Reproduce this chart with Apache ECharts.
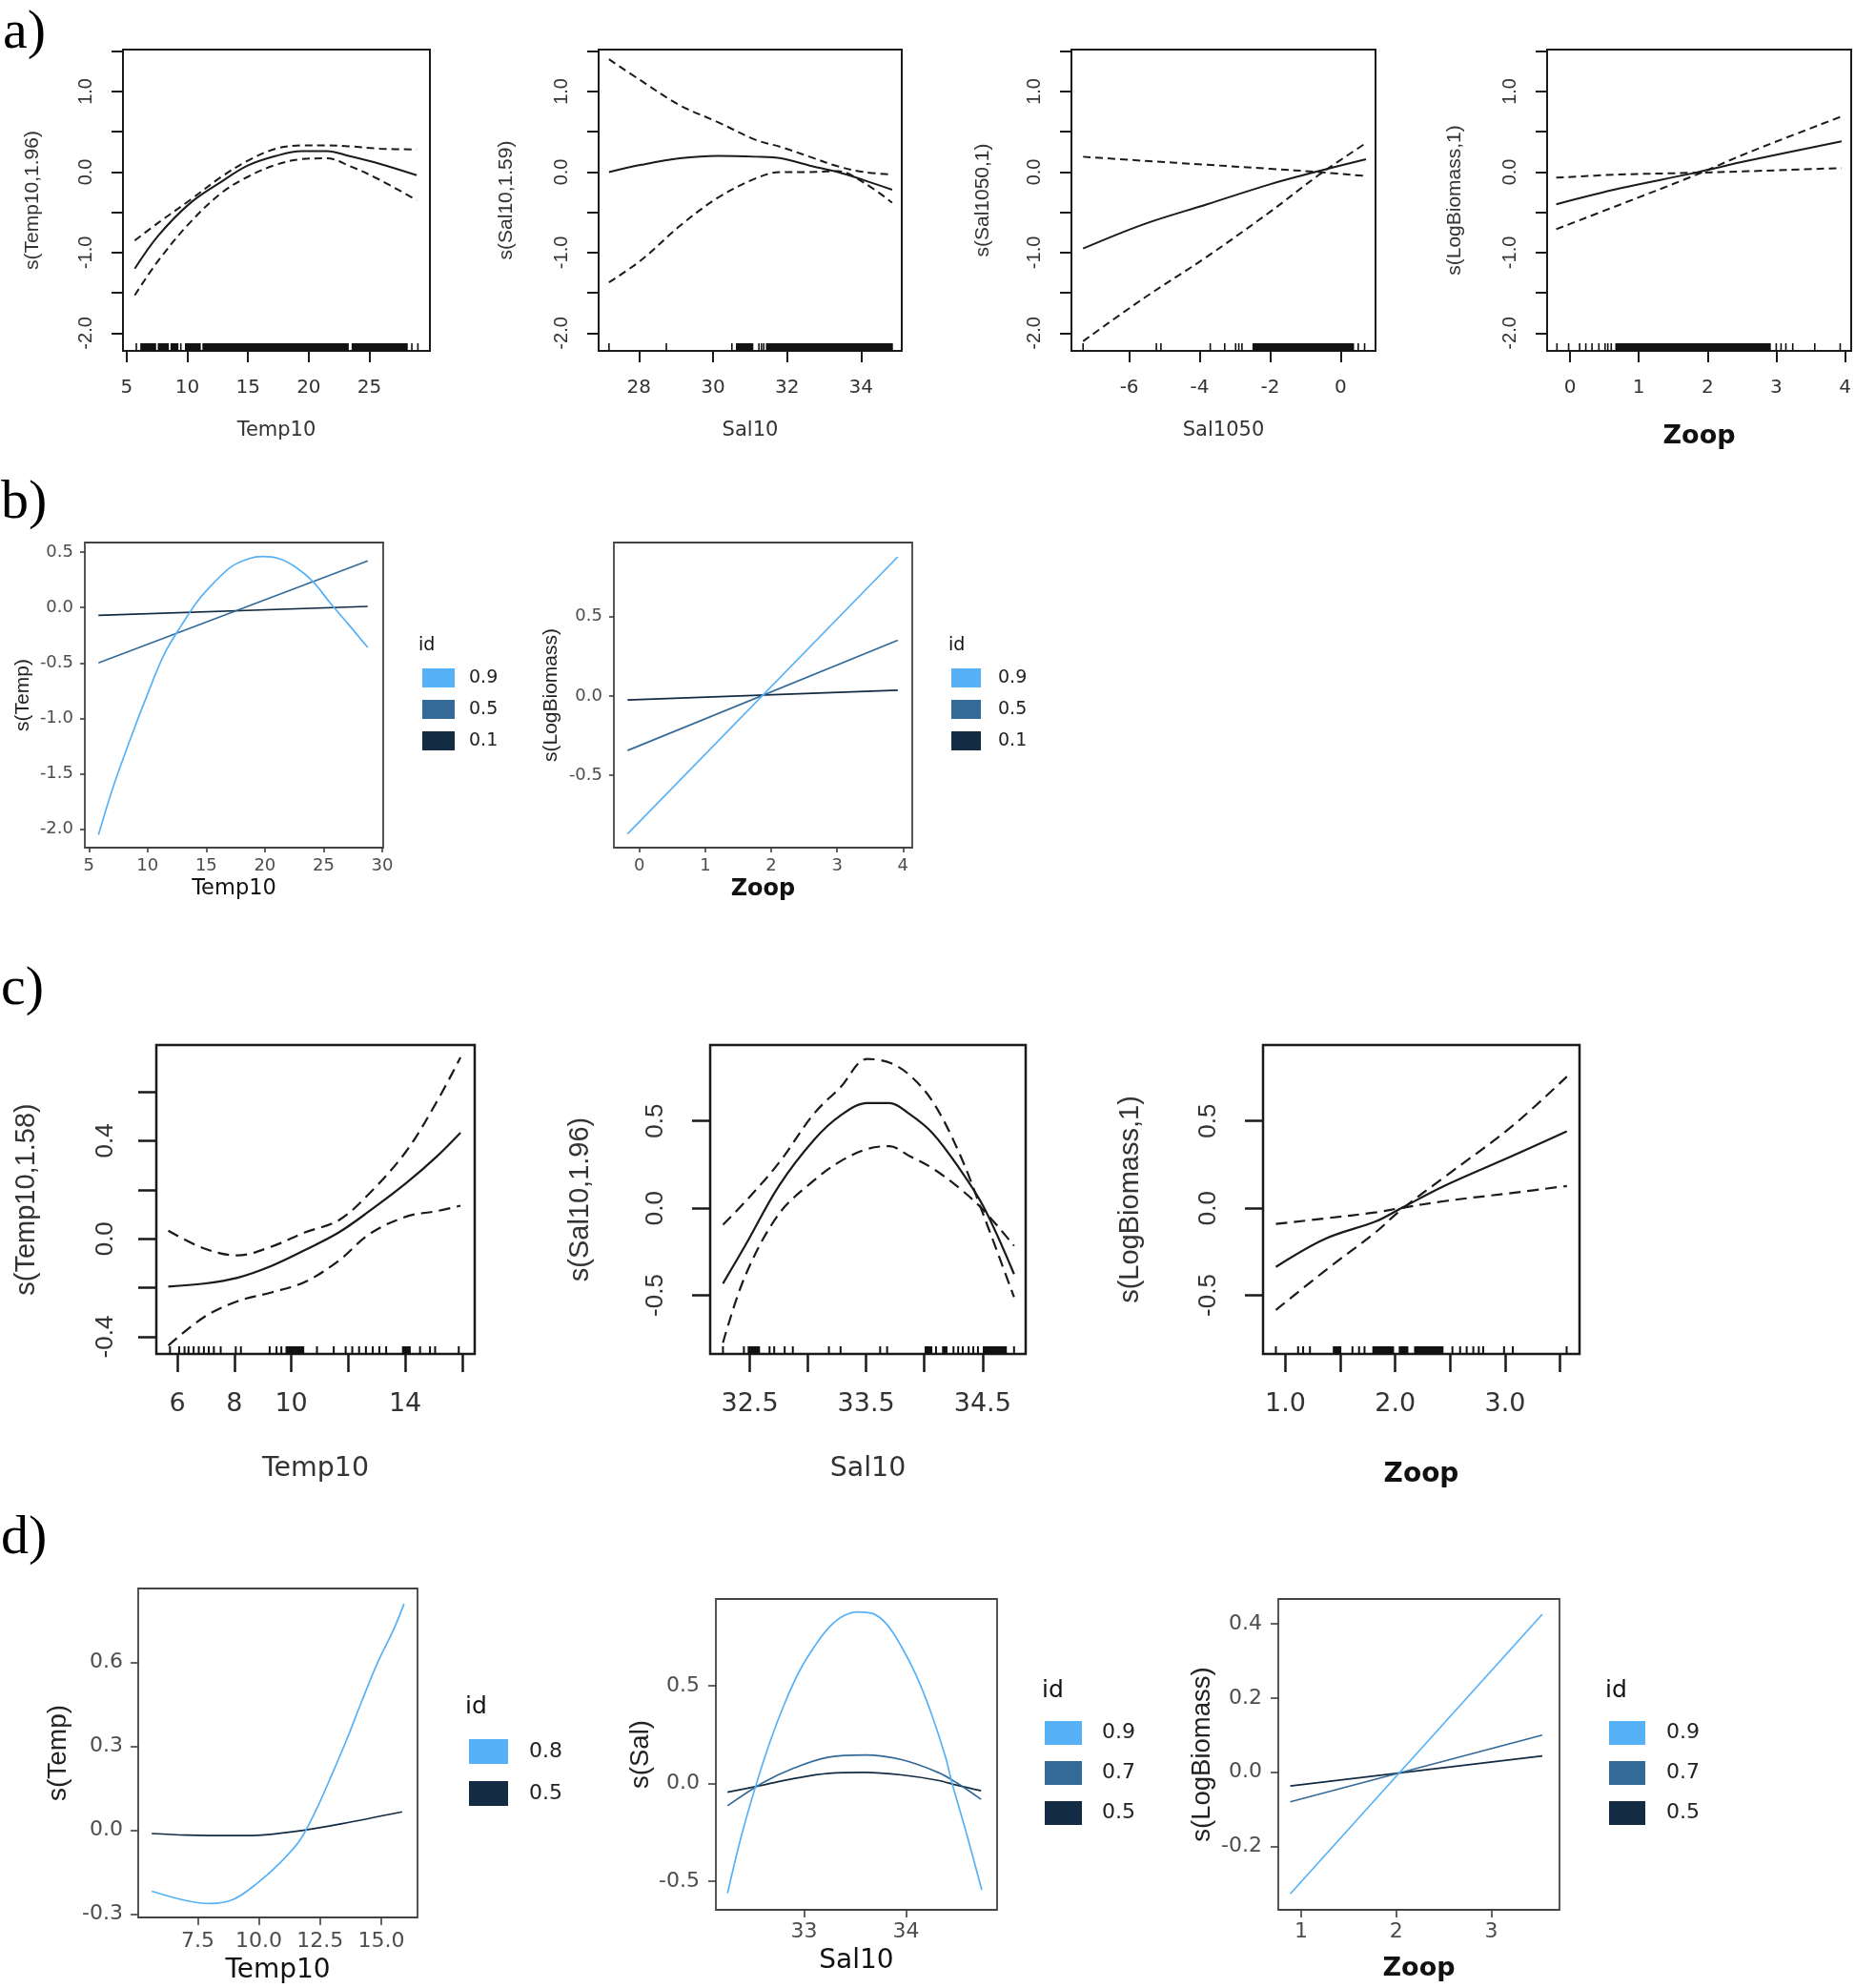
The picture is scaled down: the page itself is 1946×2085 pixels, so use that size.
<!DOCTYPE html>
<html><head><meta charset="utf-8">
<script src="https://cdn.jsdelivr.net/npm/echarts@6/dist/echarts.min.js"></script>
<style>html,body{margin:0;padding:0;background:#fff}#c{width:1946px;height:2085px}</style>
</head><body><div id="c"></div>
<script>
// ================= DATA =================
// ---- a) GAM partial effects: fit and two confidence-band lines ----
const a1X   = [5.66, 7.6, 10.2, 12.8, 14.97, 17.3, 19.4, 21.5, 23.3, 25.9, 28.9];
const a1Fit = [-1.20, -0.79, -0.39, -0.12, 0.08, 0.20, 0.26, 0.26, 0.20, 0.10, -0.04];
const a1Ci1 = [-0.85, -0.63, -0.35, -0.06, 0.14, 0.29, 0.33, 0.33, 0.32, 0.29, 0.28];
const a1Ci2 = [-1.53, -1.10, -0.63, -0.26, -0.06, 0.09, 0.16, 0.17, 0.08, -0.10, -0.35];
const a1Rug = [[5.79,5.79],[6.18,7.36],[7.62,8.41],[8.67,9.2],[9.46,9.46],[9.86,11.04],[11.3,23.24],[23.6,28.1],[28.5,28.5],[29.0,29.0]];

const a2X   = [27.19, 28.07, 29.10, 30.13, 31.15, 31.84, 32.61, 33.38, 34.07, 34.84];
const a2Fit = [0.0, 0.09, 0.17, 0.20, 0.19, 0.17, 0.08, 0.0, -0.10, -0.22];
const a2Ci1 = [1.40, 1.13, 0.83, 0.62, 0.40, 0.31, 0.19, 0.07, 0.0, -0.03];
const a2Ci2 = [-1.37, -1.09, -0.67, -0.32, -0.08, 0.0, 0.0, 0.01, -0.13, -0.38];
const a2Rug = [[27.19,27.19],[28.74,28.74],[30.51,30.51],[30.64,31.07],[31.24,31.24],[31.31,31.31],[31.37,31.37],[31.45,34.84]];

const a3X   = [-7.31, -5.6, -3.79, -1.99, -0.63, 0.72];
const a3Fit = [-0.95, -0.65, -0.40, -0.15, 0.01, 0.16];
const a3Ci1 = [0.19, 0.14, 0.09, 0.04, 0.0, -0.05];
const a3Ci2 = [-2.10, -1.57, -1.05, -0.49, -0.04, 0.36];
const a3Rug = [[-7.31,-7.31],[-5.23,-5.23],[-5.10,-5.10],[-3.70,-3.70],[-3.29,-3.29],[-2.98,-2.98],[-2.89,-2.89],[-2.80,-2.80],[-2.48,0.36],[0.50,0.50],[0.68,0.68]];

const a4X   = [-0.2, 0.74, 1.76, 2.59, 3.95];
const a4Fit = [-0.40, -0.20, -0.02, 0.14, 0.38];
const a4Ci1 = [-0.07, -0.03, -0.01, 0.01, 0.05];
const a4Ci2 = [-0.71, -0.40, -0.06, 0.24, 0.69];
const a4Rug = [[-0.19,-0.19],[-0.02,-0.02],[0.14,0.14],[0.23,0.23],[0.32,0.32],[0.42,0.42],[0.51,0.51],[0.55,0.55],[0.60,0.60],[0.67,2.91],[3.0,3.0],[3.07,3.07],[3.14,3.14],[3.24,3.24],[3.56,3.56],[3.93,3.93]];

// ---- b) quantile smooths (id levels) ----
const bLevels = ['0.9', '0.5', '0.1'];
const b1X9 = [5.81, 7.03, 8.48, 9.93, 11.38, 12.83, 14.28, 15.72, 17.17, 18.62, 19.78, 21.23, 22.68, 24.13, 25.58, 27.03, 28.77];
const b1Y9 = [-2.05, -1.63, -1.20, -0.80, -0.43, -0.17, 0.06, 0.23, 0.37, 0.44, 0.46, 0.44, 0.36, 0.23, 0.04, -0.14, -0.36];
const b1X5 = [5.81, 28.77], b1Y5 = [-0.50, 0.42];
const b1X1 = [5.81, 28.77], b1Y1 = [-0.07, 0.01];
const b2X9 = [-0.18, 3.92], b2Y9 = [-0.87, 0.876];
const b2X5 = [-0.18, 3.92], b2Y5 = [-0.344, 0.35];
const b2X1 = [-0.18, 3.92], b2Y1 = [-0.026, 0.036];

// ---- c) GAM partial effects ----
const c1X   = [5.68, 6.93, 8.11, 9.30, 10.48, 11.67, 12.74, 14.04, 15.11, 15.94];
const c1Fit = [-0.195, -0.183, -0.159, -0.111, -0.046, 0.026, 0.113, 0.228, 0.336, 0.433];
const c1Ci1 = [0.033, -0.039, -0.068, -0.032, 0.026, 0.076, 0.185, 0.358, 0.56, 0.74];
const c1Ci2 = [-0.436, -0.32, -0.255, -0.219, -0.176, -0.089, 0.019, 0.091, 0.113, 0.135];
const c1Rug = [[5.74,5.74],[6.06,6.06],[6.25,6.25],[6.39,6.39],[6.57,6.57],[6.75,6.75],[6.93,6.93],[7.10,7.10],[7.28,7.28],[7.52,7.52],[8.05,8.05],[8.23,8.23],[9.24,9.24],[9.48,9.48],[9.65,9.65],[9.83,10.42],[10.90,10.90],[11.49,11.49],[11.91,11.91],[12.14,12.14],[12.38,12.38],[12.62,12.62],[12.86,12.86],[13.09,13.09],[13.33,13.33],[13.92,14.16],[14.52,14.52],[14.87,14.87],[15.05,15.05],[15.88,15.88]];

const c2X   = [32.27, 32.46, 32.75, 33.05, 33.28, 33.51, 33.70, 33.87, 34.07, 34.30, 34.51, 34.77];
const c2Fit = [-0.432, -0.216, 0.127, 0.39, 0.531, 0.602, 0.602, 0.541, 0.43, 0.228, 0.006, -0.378];
const c2Ci1 = [-0.095, 0.036, 0.259, 0.54, 0.693, 0.855, 0.834, 0.764, 0.612, 0.315, -0.044, -0.51];
const c2Ci2 = [-0.772, -0.39, -0.034, 0.158, 0.269, 0.339, 0.355, 0.299, 0.228, 0.115, -0.014, -0.216];
const c2Rug = [[32.27,32.27],[32.45,32.45],[32.49,32.58],[32.67,32.67],[32.71,32.71],[32.80,32.80],[32.87,32.87],[33.18,33.18],[33.28,33.28],[33.62,33.62],[33.68,33.68],[34.01,34.06],[34.10,34.10],[34.16,34.19],[34.25,34.25],[34.29,34.29],[34.33,34.33],[34.38,34.38],[34.42,34.42],[34.46,34.46],[34.51,34.70],[34.77,34.77]];

const c3X   = [0.913, 1.362, 1.827, 2.044, 2.447, 3.066, 3.562];
const c3Fit = [-0.337, -0.176, -0.075, -0.004, 0.127, 0.299, 0.44];
const c3Ci1 = [-0.091, -0.059, -0.024, 0.0, 0.04, 0.087, 0.127];
const c3Ci2 = [-0.584, -0.358, -0.135, -0.014, 0.178, 0.471, 0.754];
const c3Rug = [[0.913,0.913],[1.115,1.115],[1.161,1.161],[1.223,1.223],[1.44,1.50],[1.61,1.61],[1.67,1.67],[1.72,1.72],[1.80,1.98],[2.04,2.11],[2.18,2.43],[2.52,2.52],[2.59,2.59],[2.65,2.65],[2.71,2.71],[2.76,2.76],[2.80,2.80],[2.99,2.99],[3.07,3.07],[3.56,3.56]];

// ---- d) quantile smooths ----
const d1Levels = ['0.8', '0.5'];
const d1X8 = [5.62, 7.05, 8.01, 8.96, 9.92, 10.87, 11.67, 12.30, 12.94, 13.57, 14.21, 14.85, 15.48, 15.93];
const d1Y8 = [-0.219, -0.253, -0.263, -0.248, -0.191, -0.117, -0.0375, 0.065, 0.19, 0.32, 0.4625, 0.599, 0.7125, 0.809];
const d1X5 = [5.62, 7.05, 8.96, 10.23, 11.82, 13.41, 15.85];
const d1Y5 = [-0.0125, -0.018, -0.020, -0.017, -0.001, 0.023, 0.065];

const dLevels = ['0.9', '0.7', '0.5'];
const d2X9 = [32.25, 32.386, 32.529, 32.671, 32.814, 32.957, 33.1, 33.243, 33.386, 33.529, 33.671, 33.814, 33.957, 34.1, 34.243, 34.386, 34.457, 34.6, 34.743];
const d2Y9 = [-0.561, -0.268, -0.008, 0.22, 0.415, 0.577, 0.699, 0.797, 0.857, 0.878, 0.870, 0.813, 0.699, 0.553, 0.366, 0.138, -0.008, -0.268, -0.545];
const d2X7 = [32.25, 32.6, 32.886, 33.243, 33.6, 33.957, 34.314, 34.493, 34.736];
const d2Y7 = [-0.114, 0.005, 0.076, 0.135, 0.146, 0.122, 0.057, 0.005, -0.081];
const d2X5 = [32.25, 32.6, 32.886, 33.243, 33.6, 33.957, 34.314, 34.493, 34.736];
const d2Y5 = [-0.044, -0.008, 0.024, 0.052, 0.057, 0.044, 0.016, -0.008, -0.037];
const d3X9 = [0.885, 3.536], d3Y9 = [-0.328, 0.426];
const d3X7 = [0.885, 3.536], d3Y7 = [-0.080, 0.100];
const d3X5 = [0.885, 3.536], d3Y5 = [-0.037, 0.044];

// ---- tick values / labels ----
const aYTicks = [-2, -1.5, -1, -0.5, 0, 0.5, 1, 1.5], aYLabels = [-2, -1, 0, 1];
const a1XTicks = [5, 10, 15, 20, 25];
const a2XTicks = [28, 30, 32, 34];
const a3XTicks = [-6, -4, -2, 0];
const a4XTicks = [0, 1, 2, 3, 4];
const b1XTicks = [5, 10, 15, 20, 25, 30], b1YTicks = [-2, -1.5, -1, -0.5, 0, 0.5];
const b2XTicks = [0, 1, 2, 3, 4], b2YTicks = [-0.5, 0, 0.5];
const c1XTicks = [6, 8, 10, 12, 14, 16], c1XLabels = [6, 8, 10, 14];
const c1YTicks = [-0.4, -0.2, 0, 0.2, 0.4, 0.6], c1YLabels = [-0.4, 0, 0.4];
const c2XTicks = [32.5, 33, 33.5, 34, 34.5], c2XLabels = [32.5, 33.5, 34.5];
const c3XTicks = [1, 1.5, 2, 2.5, 3, 3.5], c3XLabels = [1, 2, 3];
const cYTicks = [-0.5, 0, 0.5];
const d1XTicks = [7.5, 10, 12.5, 15], d1YTicks = [-0.3, 0, 0.3, 0.6];
const d2XTicks = [33, 34], d2YTicks = [-0.5, 0, 0.5];
const d3XTicks = [1, 2, 3], d3YTicks = [-0.2, 0, 0.2, 0.4];

// ================= STYLE / BUILD =================
const LIGHT = '#56B1F7', MID = '#336A98', DARK = '#132B43';
const FH = '"DejaVu Sans", sans-serif';
const FV = '"Liberation Sans", Arial, sans-serif';
const zip = (xs, ys) => xs.map((x, i) => [x, ys[i]]);
const fmt = (v, d) => d === 0 ? String(Math.round(v)) : v.toFixed(d);

const grids = [], xAxes = [], yAxes = [], series = [], legends = [], graphics = [];

const RA = {tickLen: 12, tickW: 2, border: 2, xls: 20, xlm: 29, yls: 20, ylm: 29, xns: 21, xng: 73, yns: 21, lineW: 2, dash: [8, 5], rugH: 8, rugW: 1.6};
const RC = {tickLen: 19, tickW: 2.5, border: 2.5, xls: 27, xlm: 39, yls: 26, ylm: 42, xns: 28.5, xng: 106, yns: 29, lineW: 2.2, dash: [12, 7], rugH: 8, rugW: 2};

function rugRender(S) {
  return function (params, api) {
    const cs = params.coordSys;
    const x0 = api.coord([api.value(0), 0])[0];
    const x1 = api.coord([api.value(1), 0])[0];
    const bottom = cs.y + cs.height;
    return {type: 'rect', shape: {x: x0 - S.rugW / 2, y: bottom - S.rugH, width: Math.max(x1 - x0, 0) + S.rugW, height: S.rugH},
      style: {fill: '#111'}};
  };
}

function rPanel(p, S) {
  const gi = grids.length;
  grids.push({left: p.box[0], top: p.box[1], width: p.box[2], height: p.box[3], show: true,
    borderColor: '#1a1a1a', borderWidth: S.border, backgroundColor: 'rgba(0,0,0,0)'});
  xAxes.push({type: 'value', gridIndex: gi, min: p.xr[0], max: p.xr[1], position: 'bottom',
    axisLine: {show: false, onZero: false},
    axisTick: {show: true, inside: false, length: S.tickLen, lineStyle: {color: '#1a1a1a', width: S.tickW}, customValues: p.xTicks},
    axisLabel: {show: true, customValues: p.xLabels || p.xTicks, margin: S.xlm, formatter: v => fmt(v, p.xDec),
      fontSize: S.xls, fontFamily: FH, color: '#333'},
    splitLine: {show: false},
    name: p.xName, nameLocation: 'middle', nameGap: p.xng || S.xng,
    nameTextStyle: {fontSize: p.xns || S.xns, fontFamily: FH, fontWeight: p.xBold ? 'bold' : 'normal', color: p.xBold ? '#111' : '#333'}});
  yAxes.push({type: 'value', gridIndex: gi, min: p.yr[0], max: p.yr[1], position: 'left',
    axisLine: {show: false, onZero: false},
    axisTick: {show: true, inside: false, length: S.tickLen, lineStyle: {color: '#1a1a1a', width: S.tickW}, customValues: p.yTicks},
    axisLabel: {show: true, rotate: 90, customValues: p.yLabels || p.yTicks, margin: p.ylm || S.ylm, formatter: v => fmt(v, p.yDec),
      fontSize: S.yls, fontFamily: FV, color: '#333'},
    splitLine: {show: false},
    name: p.yName, nameLocation: 'middle', nameRotate: 90, nameGap: p.yng,
    nameTextStyle: {fontSize: S.yns, fontFamily: FV, color: '#333'}});
  p.lines.forEach(l => series.push({type: 'line', xAxisIndex: gi, yAxisIndex: gi, data: zip(l[0], l[1]),
    showSymbol: false, symbol: 'none', smooth: 0.35, silent: true, z: 4,
    lineStyle: {color: '#1a1a1a', width: S.lineW, type: l[2] ? S.dash : 'solid'}}));
  series.push({type: 'custom', xAxisIndex: gi, yAxisIndex: gi, data: p.rug, encode: {x: [0, 1]},
    renderItem: rugRender(S), silent: true, clip: false, z: 3});
}

function ggPanel(p) {
  const gi = grids.length;
  const S = p.S;
  grids.push({left: p.box[0], top: p.box[1], width: p.box[2], height: p.box[3], show: true,
    borderColor: '#444', borderWidth: 1.8, backgroundColor: 'rgba(0,0,0,0)'});
  xAxes.push({type: 'value', gridIndex: gi, min: p.xr[0], max: p.xr[1], position: 'bottom',
    axisLine: {show: false, onZero: false},
    axisTick: {show: true, inside: false, length: S.tickLen, lineStyle: {color: '#333', width: 1.5}, customValues: p.xTicks},
    axisLabel: {show: true, customValues: p.xTicks, margin: p.xlm, formatter: v => fmt(v, p.xDec),
      fontSize: S.ls, fontFamily: FH, color: '#4D4D4D'},
    splitLine: {show: false},
    name: p.xName, nameLocation: 'middle', nameGap: p.xng,
    nameTextStyle: {fontSize: p.xns, fontFamily: FH, fontWeight: p.xBold ? 'bold' : 'normal', color: '#111'}});
  yAxes.push({type: 'value', gridIndex: gi, min: p.yr[0], max: p.yr[1], position: 'left',
    axisLine: {show: false, onZero: false},
    axisTick: {show: true, inside: false, length: S.tickLen, lineStyle: {color: '#333', width: 1.5}, customValues: p.yTicks},
    axisLabel: {show: true, customValues: p.yTicks, margin: p.ylm, formatter: v => fmt(v, p.yDec),
      fontSize: S.ls, fontFamily: FH, color: '#4D4D4D'},
    splitLine: {show: false},
    name: p.yName, nameLocation: 'middle', nameRotate: 90, nameGap: p.yng,
    nameTextStyle: {fontSize: p.yns, fontFamily: FV, color: '#222'}});
  const names = [];
  p.lines.forEach(l => {
    const nm = p.id + '|' + l[2];
    names.push(nm);
    series.push({type: 'line', name: nm, xAxisIndex: gi, yAxisIndex: gi, data: zip(l[0], l[1]),
      showSymbol: false, symbol: 'none', smooth: 0.35, silent: true, color: l[3], z: l[4] || 4,
      lineStyle: {color: l[3], width: 1.7}});
  });
  legends.push({show: true, orient: 'vertical', left: p.leg.left, top: p.leg.top, padding: 0,
    icon: 'rect', itemWidth: p.leg.w, itemHeight: p.leg.h, itemGap: p.leg.gap, selectedMode: false,
    itemStyle: {borderWidth: 0},
    data: names.slice().reverse(), formatter: n => n.split('|')[1],
    textStyle: {fontSize: S.legFs, fontFamily: FH, color: '#222', padding: [0, 0, 0, p.leg.tpad]}});
  graphics.push({type: 'text', x: p.leg.idX, y: p.leg.idY,
    style: {text: 'id', fontSize: S.idFs, fontFamily: FH, fill: '#111', verticalAlign: 'middle', align: 'left'}});
}

// ---- a) ----
rPanel({box: [129, 52, 322, 316], xr: [4.69, 29.99], yr: [-2.22, 1.52], xTicks: a1XTicks, xDec: 0,
  yTicks: aYTicks, yLabels: aYLabels, yDec: 1, xName: 'Temp10', yName: 's(Temp10,1.96)', yng: 84,
  lines: [[a1X, a1Fit, false], [a1X, a1Ci1, true], [a1X, a1Ci2, true]], rug: a1Rug}, RA);
rPanel({box: [628, 52, 318, 316], xr: [26.91, 35.10], yr: [-2.22, 1.52], xTicks: a2XTicks, xDec: 0,
  yTicks: aYTicks, yLabels: aYLabels, yDec: 1, xName: 'Sal10', yName: 's(Sal10,1.59)', yng: 86,
  lines: [[a2X, a2Fit, false], [a2X, a2Ci1, true], [a2X, a2Ci2, true]], rug: a2Rug}, RA);
rPanel({box: [1124, 52, 319, 316], xr: [-7.64, 0.99], yr: [-2.22, 1.52], xTicks: a3XTicks, xDec: 0,
  yTicks: aYTicks, yLabels: aYLabels, yDec: 1, xName: 'Sal1050', yName: 's(Sal1050,1)', yng: 82,
  lines: [[a3X, a3Fit, false], [a3X, a3Ci1, true], [a3X, a3Ci2, true]], rug: a3Rug}, RA);
rPanel({box: [1623, 52, 319, 316], xr: [-0.333, 4.09], yr: [-2.22, 1.52], xTicks: a4XTicks, xDec: 0,
  yTicks: aYTicks, yLabels: aYLabels, yDec: 1, xName: 'Zoop', xBold: true, xns: 27, xng: 76, yName: 's(LogBiomass,1)', yng: 86,
  lines: [[a4X, a4Fit, false], [a4X, a4Ci1, true], [a4X, a4Ci2, true]], rug: a4Rug}, RA);

// ---- b) ----
const GB = {tickLen: 5, ls: 18, legFs: 19, idFs: 19};
const GD = {tickLen: 8, ls: 22, legFs: 22, idFs: 25};
ggPanel({id: 'b1', S: GB, box: [89, 569, 313, 320], xr: [4.65, 30.09], yr: [-2.166, 0.586],
  xTicks: b1XTicks, xDec: 0, yTicks: b1YTicks, yDec: 1, xlm: 10, ylm: 12,
  xName: 'Temp10', xns: 22.5, xng: 32, yName: 's(Temp)', yns: 21, yng: 54,
  lines: [[b1X1, b1Y1, bLevels[2], DARK], [b1X5, b1Y5, bLevels[1], MID], [b1X9, b1Y9, bLevels[0], LIGHT, 5]],
  leg: {left: 443, top: 701, w: 34, h: 20, gap: 13, tpad: 10, idX: 439, idY: 677}});
ggPanel({id: 'b2', S: GB, box: [644, 569, 313, 320], xr: [-0.387, 4.14], yr: [-0.956, 0.966],
  xTicks: b2XTicks, xDec: 0, yTicks: b2YTicks, yDec: 1, xlm: 10, ylm: 12,
  xName: 'Zoop', xBold: true, xns: 24, xng: 32, yName: 's(LogBiomass)', yns: 21, yng: 55,
  lines: [[b2X1, b2Y1, bLevels[2], DARK], [b2X5, b2Y5, bLevels[1], MID], [b2X9, b2Y9, bLevels[0], LIGHT, 5]],
  leg: {left: 998, top: 701, w: 31, h: 20, gap: 13, tpad: 13, idX: 995, idY: 677}});

// ---- c) ----
rPanel({box: [164, 1096, 334, 324], xr: [5.26, 16.44], yr: [-0.470, 0.791], xTicks: c1XTicks, xLabels: c1XLabels, xDec: 0,
  yTicks: c1YTicks, yLabels: c1YLabels, yDec: 1, ylm: 40, xName: 'Temp10', yName: 's(Temp10,1.58)', yng: 122,
  lines: [[c1X, c1Fit, false], [c1X, c1Ci1, true], [c1X, c1Ci2, true]], rug: c1Rug}, RC);
rPanel({box: [745, 1096, 331, 324], xr: [32.16, 34.87], yr: [-0.836, 0.935], xTicks: c2XTicks, xLabels: c2XLabels, xDec: 1,
  yTicks: cYTicks, yDec: 1, ylm: 44, xName: 'Sal10', yName: 's(Sal10,1.96)', yng: 122,
  lines: [[c2X, c2Fit, false], [c2X, c2Ci1, true], [c2X, c2Ci2, true]], rug: c2Rug}, RC);
rPanel({box: [1325, 1096, 332, 324], xr: [0.796, 3.677], yr: [-0.836, 0.935], xTicks: c3XTicks, xLabels: c3XLabels, xDec: 1,
  yTicks: cYTicks, yDec: 1, ylm: 44, xName: 'Zoop', xBold: true, xns: 28, xng: 113, yName: 's(LogBiomass,1)', yng: 125,
  lines: [[c3X, c3Fit, false], [c3X, c3Ci1, true], [c3X, c3Ci2, true]], rug: c3Rug}, RC);

// ---- d) ----
ggPanel({id: 'd1', S: GD, box: [145, 1666, 293, 345], xr: [5.07, 16.48], yr: [-0.3126, 0.864],
  xTicks: d1XTicks, xDec: 1, yTicks: d1YTicks, yDec: 1, xlm: 14, ylm: 16,
  xName: 'Temp10', xns: 28, xng: 42, yName: 's(Temp)', yns: 28, yng: 70,
  lines: [[d1X5, d1Y5, d1Levels[1], DARK], [d1X8, d1Y8, d1Levels[0], LIGHT, 5]],
  leg: {left: 492, top: 1824, w: 41, h: 26, gap: 18, tpad: 17, idX: 488, idY: 1790}});
ggPanel({id: 'd2', S: GD, box: [751, 1677, 295, 326], xr: [32.136, 34.893], yr: [-0.646, 0.944],
  xTicks: d2XTicks, xDec: 0, yTicks: d2YTicks, yDec: 1, xlm: 12, ylm: 17,
  xName: 'Sal10', xns: 28, xng: 40, yName: 's(Sal)', yns: 27.5, yng: 65,
  lines: [[d2X5, d2Y5, dLevels[2], DARK], [d2X7, d2Y7, dLevels[1], MID], [d2X9, d2Y9, dLevels[0], LIGHT, 5]],
  leg: {left: 1096, top: 1805, w: 39, h: 25, gap: 17, tpad: 16, idX: 1093, idY: 1773}});
ggPanel({id: 'd3', S: GD, box: [1341, 1677, 295, 326], xr: [0.759, 3.717], yr: [-0.371, 0.467],
  xTicks: d3XTicks, xDec: 0, yTicks: d3YTicks, yDec: 1, xlm: 12, ylm: 17,
  xName: 'Zoop', xBold: true, xns: 27, xng: 48, yName: 's(LogBiomass)', yns: 27.5, yng: 66,
  lines: [[d3X5, d3Y5, dLevels[2], DARK], [d3X7, d3Y7, dLevels[1], MID], [d3X9, d3Y9, dLevels[0], LIGHT, 5]],
  leg: {left: 1688, top: 1805, w: 38, h: 25, gap: 17, tpad: 17, idX: 1684, idY: 1773}});

// panel letters
[['a)', 3, 35], ['b)', 1, 528], ['c)', 1, 1038], ['d)', 1, 1614]].forEach(t => graphics.push({type: 'text', x: t[1], y: t[2],
  style: {text: t[0], fontSize: 58, fontFamily: '"Liberation Serif", "Times New Roman", serif', fill: '#000', verticalAlign: 'middle', align: 'left'}}));

const chart = echarts.init(document.getElementById('c'), null, {renderer: 'canvas'});
chart.setOption({animation: false, backgroundColor: '#fff', grid: grids, xAxis: xAxes, yAxis: yAxes,
  series: series, legend: legends, graphic: graphics});
</script></body></html>
